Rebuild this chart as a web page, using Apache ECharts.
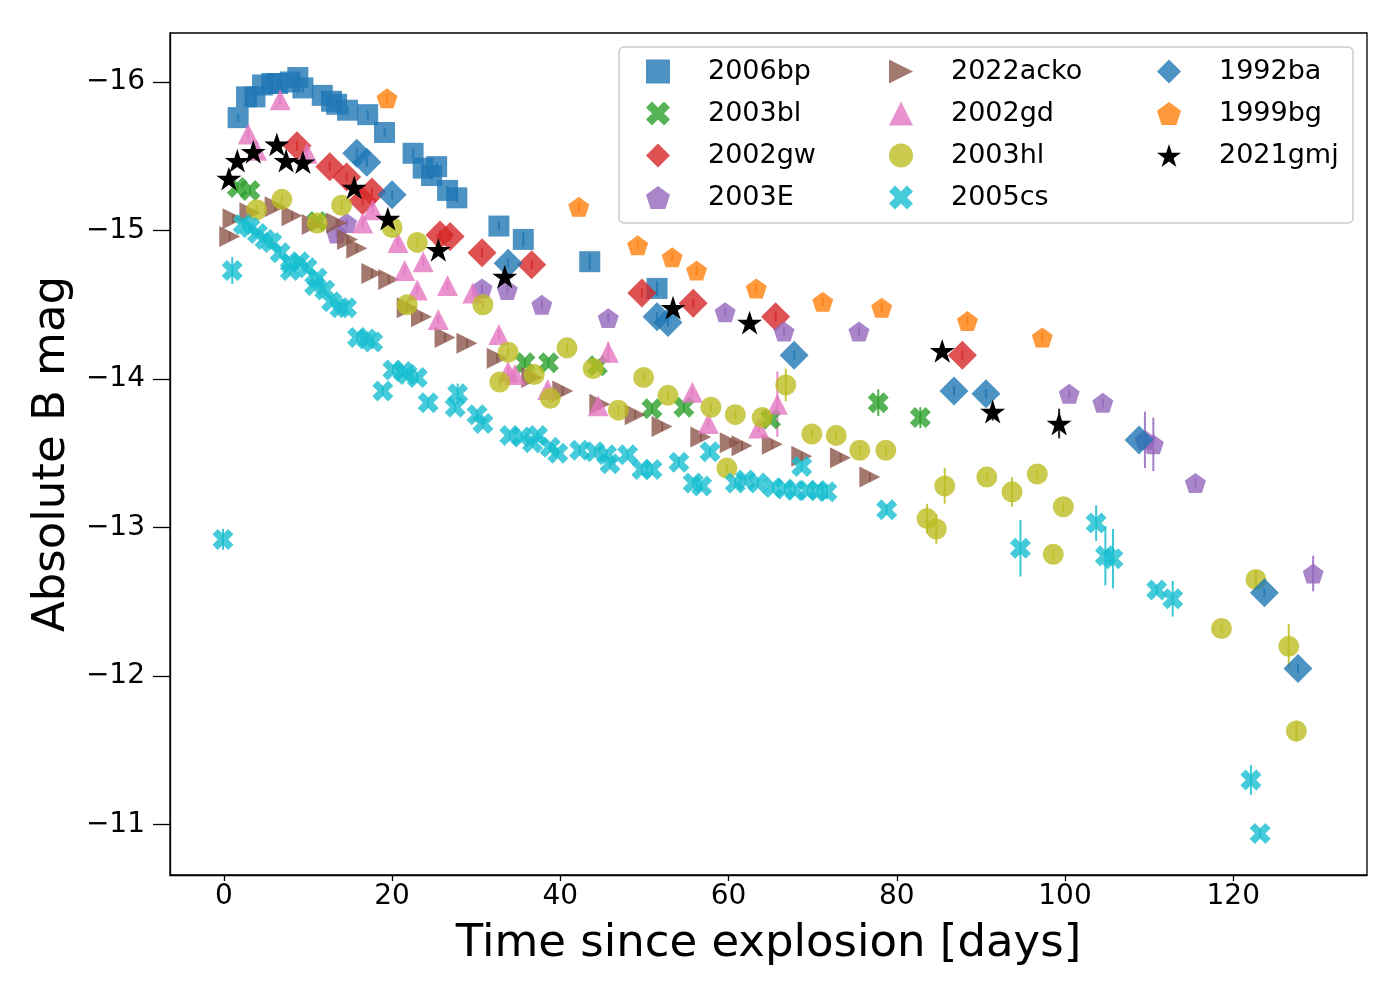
<!DOCTYPE html>
<html>
<head>
<meta charset="utf-8">
<title>Absolute B mag light curves</title>
<script type="text/javascript" src="https://cdn.jsdelivr.net/npm/echarts@6/dist/echarts.min.js"></script>
</head>
<body style="margin:0">
<div id="container" style="width:1400px;height:1000px"></div>
<script type="text/javascript">
// [days since explosion, absolute B mag, error (optional)]
var sn2006bp = [[1.7,-15.76],[2.7,-15.90],[3.7,-15.90],[4.6,-15.98],[5.7,-15.99],[6.4,-15.99],[7.9,-16.00],[8.8,-16.03],[9.4,-15.96],[11.7,-15.91],[12.8,-15.87],[13.4,-15.85],[14.7,-15.81],[17.1,-15.78],[19.1,-15.66],[22.5,-15.52],[23.7,-15.42],[24.7,-15.37],[25.3,-15.43],[26.6,-15.27],[27.7,-15.22],[32.7,-15.03],[35.6,-14.94,0.05],[43.5,-14.79,0.05],[51.5,-14.61,0.05]];
var sn2003bl = [[1.6,-15.29],[3.1,-15.27],[11.1,-15.06],[35.8,-14.11],[38.6,-14.11],[44.4,-14.09],[50.9,-13.80],[54.7,-13.81],[65.0,-13.73],[77.8,-13.84,0.09],[82.8,-13.74,0.07]];
var sn2002gw = [[8.7,-15.57],[12.6,-15.43],[14.6,-15.36],[16.5,-15.20],[17.6,-15.26],[25.7,-14.97],[26.9,-14.96],[30.7,-14.85],[36.6,-14.77],[49.7,-14.58],[55.8,-14.51],[65.6,-14.42],[87.8,-14.16]];
var sn2003E = [[13.4,-14.98],[14.6,-15.05],[30.7,-14.61],[33.7,-14.60],[37.8,-14.50],[45.7,-14.41],[59.6,-14.45],[66.6,-14.32],[75.5,-14.32],[100.5,-13.90],[104.5,-13.84],[109.5,-13.59,0.19],[110.5,-13.56,0.18],[115.5,-13.30],[129.5,-12.69,0.12]];
var sn2022acko = [[0.7,-14.96],[1.1,-15.08],[3.1,-15.12],[6.1,-15.16],[8.1,-15.10],[10.5,-15.04],[13.4,-15.05],[14.7,-14.94],[15.8,-14.88],[17.6,-14.71],[19.6,-14.67],[21.8,-14.48],[23.5,-14.42],[26.3,-14.28],[28.9,-14.24],[32.5,-14.14],[36.6,-14.01],[40.3,-13.92],[44.7,-13.83],[48.9,-13.76],[52.1,-13.68],[56.7,-13.61],[60.2,-13.57],[61.6,-13.55],[65.2,-13.56],[68.7,-13.48],[73.3,-13.47],[76.8,-13.34]];
var sn2002gd = [[2.9,-15.65],[3.9,-15.54],[6.7,-15.88],[9.9,-15.52],[16.5,-15.05],[17.7,-15.14],[20.7,-14.92],[21.5,-14.73],[23.0,-14.60],[23.7,-14.79],[25.5,-14.40],[26.6,-14.63],[29.6,-14.58],[32.7,-14.30],[33.8,-14.05],[34.6,-14.03],[38.5,-13.93],[44.5,-13.82],[45.7,-14.18,0.07],[55.7,-13.91],[57.6,-13.70],[63.6,-13.67],[65.8,-13.83,0.22]];
var sn2003hl = [[3.9,-15.14],[6.9,-15.21],[11.1,-15.05],[14.0,-15.17],[20.0,-15.02],[21.8,-14.50],[23.0,-14.92],[30.8,-14.50],[32.8,-13.98],[33.8,-14.18],[36.9,-14.03],[38.8,-13.87],[40.8,-14.21],[43.9,-14.07],[46.9,-13.79],[49.9,-14.01],[52.8,-13.89],[57.9,-13.81],[59.8,-13.40],[60.8,-13.76],[64.0,-13.74],[66.8,-13.96,0.11],[69.9,-13.63],[72.8,-13.62],[75.6,-13.52],[78.7,-13.52],[83.6,-13.06,0.1],[84.7,-12.99,0.1],[85.7,-13.28,0.12],[90.7,-13.34],[93.7,-13.24,0.1],[96.7,-13.36],[98.6,-12.82],[99.8,-13.14],[118.6,-12.32],[122.7,-12.65,0.06],[126.6,-12.20,0.15],[127.5,-11.63,0.07]];
var sn2005cs = [[-0.1,-12.92,0.07],[1.0,-14.73,0.09],[2.3,-15.04],[3.1,-15.02],[4.0,-14.98],[4.9,-14.94],[5.7,-14.92],[6.7,-14.85],[7.9,-14.78],[7.9,-14.73],[9.0,-14.79],[9.9,-14.75],[10.8,-14.63],[11.1,-14.68],[12.0,-14.60],[12.8,-14.52],[13.8,-14.48],[14.6,-14.48],[15.9,-14.28],[17.0,-14.27],[17.7,-14.25],[18.9,-13.92],[20.1,-14.06],[21.3,-14.05],[21.8,-14.03],[23.0,-14.01],[24.3,-13.84],[27.5,-13.81],[27.8,-13.90,0.07],[30.1,-13.76],[30.8,-13.70],[34.0,-13.62],[35.4,-13.61],[36.7,-13.57],[37.3,-13.62],[38.8,-13.54],[39.7,-13.50],[42.3,-13.52],[44.1,-13.51],[45.5,-13.49],[45.9,-13.43],[48.0,-13.49],[49.7,-13.39],[50.9,-13.39],[54.1,-13.44],[55.8,-13.30],[56.8,-13.28],[57.8,-13.51],[60.8,-13.30],[62.0,-13.32],[63.5,-13.30],[65.3,-13.27],[66.7,-13.26],[67.9,-13.25],[68.7,-13.41],[69.4,-13.25],[70.6,-13.25],[71.7,-13.24,0.05],[78.8,-13.12],[94.7,-12.86,0.19],[103.7,-13.03,0.12],[104.8,-12.81,0.2],[105.7,-12.79,0.2],[110.9,-12.58],[112.8,-12.52,0.12],[122.1,-11.30,0.1],[123.2,-10.94]];
var sn1992ba = [[15.8,-15.52],[17.0,-15.46],[20.0,-15.24],[33.8,-14.78],[51.5,-14.42],[52.8,-14.38],[67.8,-14.16],[86.8,-13.92],[90.6,-13.90],[108.8,-13.59],[123.7,-12.56],[127.7,-12.05]];
var sn1999bg = [[19.4,-15.89],[42.2,-15.16],[49.2,-14.90],[53.3,-14.82],[56.2,-14.73],[63.3,-14.61],[71.2,-14.52],[78.2,-14.48],[88.4,-14.39],[97.3,-14.28]];
var sn2021gmj = [[0.6,-15.35],[1.6,-15.47],[3.5,-15.53],[6.3,-15.58],[7.4,-15.47],[9.4,-15.46],[15.5,-15.29],[19.5,-15.08],[25.5,-14.87],[33.4,-14.69],[53.4,-14.48],[62.5,-14.38],[85.4,-14.19],[91.4,-13.78,0.06],[99.3,-13.70,0.1]];

var xTicks = [0, 20, 40, 60, 80, 100, 120];
var yTicks = [-16, -15, -14, -13, -12, -11];

var FONT = 'DejaVu Sans';
var square = 'path://M-1,-1 L1,-1 L1,1 L-1,1 Z';
var diamond = 'path://M0,-1 L1,0 L0,1 L-1,0 Z';
var pentagon = 'path://M0,-1 L0.951,-0.309 L0.588,0.809 L-0.588,0.809 L-0.951,-0.309 Z';
var star = 'path://M0,-1 L0.2245,-0.309 L0.951,-0.309 L0.363,0.118 L0.588,0.809 L0,0.382 L-0.588,0.809 L-0.363,0.118 L-0.951,-0.309 L-0.2245,-0.309 Z';
var xfilled = 'path://M2,-4 L4,-2 L2,0 L4,2 L2,4 L0,2 L-2,4 L-4,2 L-2,0 L-4,-2 L-2,-4 L0,-2 Z';
var triUp = 'path://M0,-1 L1,1 L-1,1 Z';
var triRight = 'path://M-1,-1 L1,0 L-1,1 Z';

var sets = [
    {name: '2006bp', data: sn2006bp, color: '#1f77b4', symbol: square, size: 21},
    {name: '2003bl', data: sn2003bl, color: '#2ca02c', symbol: xfilled, size: 21},
    {name: '2002gw', data: sn2002gw, color: '#d62728', symbol: diamond, size: 29},
    {name: '2003E', data: sn2003E, color: '#9467bd', symbol: pentagon, size: 21},
    {name: '2022acko', data: sn2022acko, color: '#8c564b', symbol: triRight, size: 21},
    {name: '2002gd', data: sn2002gd, color: '#e377c2', symbol: triUp, size: 21},
    {name: '2003hl', data: sn2003hl, color: '#bcbd22', symbol: 'circle', size: 21},
    {name: '2005cs', data: sn2005cs, color: '#17becf', symbol: xfilled, size: 21},
    {name: '1992ba', data: sn1992ba, color: '#1f77b4', symbol: diamond, size: 29},
    {name: '1999bg', data: sn1999bg, color: '#ff7f0e', symbol: pentagon, size: 21},
    {name: '2021gmj', data: sn2021gmj, color: '#000000', symbol: star, size: 25, opacity: 1}
];

function errItem(params, api) {
    var x = api.value(0), y = api.value(1), e = api.value(2);
    var p1 = api.coord([x, y - e]);
    var p2 = api.coord([x, y + e]);
    return {
        type: 'line',
        shape: {x1: p1[0], y1: p1[1], x2: p2[0], y2: p2[1]},
        style: {stroke: api.visual('color'), lineWidth: 2, opacity: 0.85}
    };
}

var series = [];
sets.forEach(function (s) {
    series.push({
        name: s.name,
        type: 'scatter',
        data: s.data.map(function (p) { return [p[0], p[1]]; }),
        symbol: s.symbol,
        symbolSize: s.size,
        symbolKeepAspect: true,
        itemStyle: {color: s.color, opacity: s.opacity || 0.8},
        emphasis: {disabled: true}
    });
    series.push({
        name: s.name + ' err',
        type: 'custom',
        renderItem: errItem,
        data: s.data.map(function (p) { return [p[0], p[1], p.length > 2 ? p[2] : 0.03]; }),
        encode: {x: 0, y: 1},
        itemStyle: {color: s.color},
        clip: true,
        silent: true
    });
});

// icon box is 24x24, a fixed-width rich spacer pushes the label right
function legendCol(names, left) {
    return {
        data: names,
        orient: 'vertical',
        left: left,
        top: 58,
        padding: 0,
        itemWidth: 24,
        itemHeight: 24,
        itemGap: 15,
        selectedMode: false,
        formatter: function (name) { return '{s|}' + name; },
        textStyle: {
            fontFamily: FONT, fontSize: 27, color: '#000',
            rich: {s: {width: 33}}
        }
    };
}

var myChart = echarts.init(document.getElementById('container'));
var option = {
    animation: false,
    backgroundColor: '#fff',
    grid: {left: 170, right: 33, top: 33, bottom: 125, show: true, borderColor: '#000', borderWidth: 1.3, backgroundColor: 'transparent'},
    xAxis: {
        type: 'value',
        min: -6.4,
        max: 135.9,
        name: 'Time since explosion [days]',
        nameLocation: 'middle',
        nameGap: 47,
        nameTextStyle: {fontFamily: FONT, fontSize: 45, color: '#000'},
        axisLine: {onZero: false, lineStyle: {color: '#000', width: 1.3}},
        axisTick: {show: true, inside: false, length: 6, customValues: xTicks, lineStyle: {color: '#000', width: 1.3}},
        axisLabel: {customValues: xTicks, fontFamily: FONT, fontSize: 28, color: '#000', margin: 8},
        splitLine: {show: false}
    },
    yAxis: {
        type: 'value',
        inverse: true,
        min: -16.33,
        max: -10.66,
        name: 'Absolute B mag',
        nameLocation: 'middle',
        nameGap: 92,
        nameTextStyle: {fontFamily: FONT, fontSize: 45, color: '#000'},
        axisLine: {show: true, onZero: false, lineStyle: {color: '#000', width: 1.3}},
        axisTick: {show: true, inside: false, length: 17, customValues: yTicks, lineStyle: {color: '#000', width: 1.3}},
        axisLabel: {
            customValues: yTicks, fontFamily: FONT, fontSize: 28, color: '#000', margin: 25,
            formatter: function (v) { return v < 0 ? '\u2212' + Math.abs(v) : String(v); }
        },
        splitLine: {show: false}
    },
    legend: [
        legendCol(['2006bp', '2003bl', '2002gw', '2003E'], 646),
        legendCol(['2022acko', '2002gd', '2003hl', '2005cs'], 889),
        legendCol(['1992ba', '1999bg', '2021gmj'], 1157)
    ],
    graphic: [{
        type: 'rect',
        z: 3,
        shape: {x: 619, y: 47, width: 734, height: 176, r: 5},
        style: {fill: 'rgba(255,255,255,0.8)', stroke: '#cccccc', lineWidth: 1.5}
    }],
    series: series
};
myChart.setOption(option);
</script>
</body>
</html>
